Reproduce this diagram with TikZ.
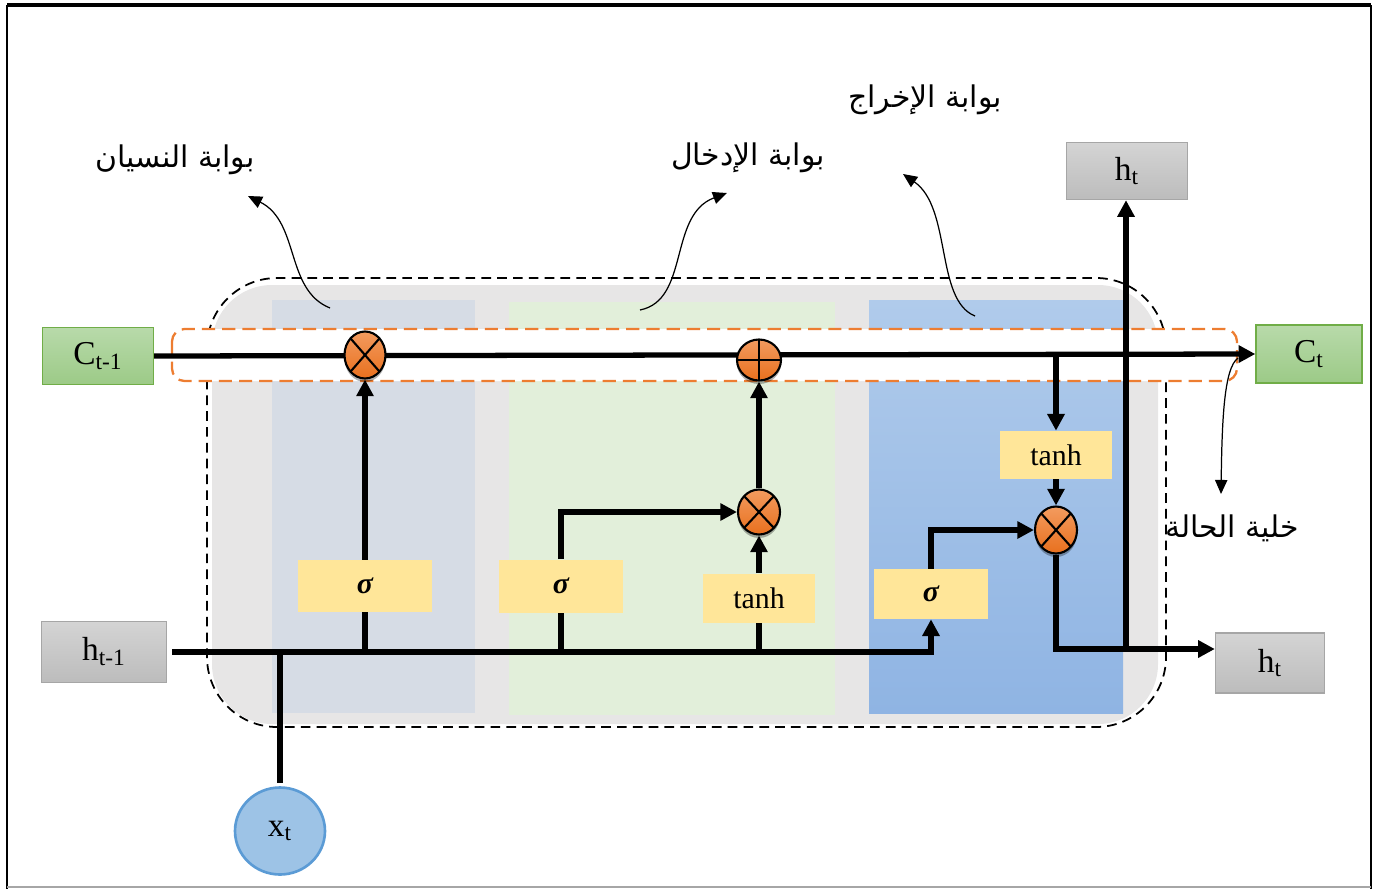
\documentclass[tikz,border=0pt]{standalone}
\usepackage{fontspec}
\setmainfont{Liberation Serif}
\newfontfamily\arabicfont[Script=Arabic]{DejaVu Sans}
\TeXXeTstate=1
\usetikzlibrary{arrows.meta,shapes.geometric,shadows}

\definecolor{cellgray}{HTML}{E7E6E6}
\definecolor{forgetblue}{HTML}{D6DCE5}
\definecolor{inputgreen}{HTML}{E2EFDA}
\definecolor{outtop}{HTML}{B0CBEB}
\definecolor{outbot}{HTML}{8FB4E3}
\definecolor{sigyellow}{HTML}{FFE699}
\definecolor{gateorange}{HTML}{ED7D31}
\definecolor{multtop}{HTML}{F39B5F}
\definecolor{multbot}{HTML}{E8701E}
\definecolor{greentop}{HTML}{B8DAAA}
\definecolor{greenbot}{HTML}{9CCA87}
\definecolor{greenline}{HTML}{70AD47}
\definecolor{graytop}{HTML}{D4D4D4}
\definecolor{graybot}{HTML}{BCBCBC}
\definecolor{grayline}{HTML}{A6A6A6}
\definecolor{xtfill}{HTML}{9DC3E6}
\definecolor{xtline}{HTML}{5B9BD5}

\newcommand\gatelabel[1]{{\arabicfont\beginR #1\endR}}

\pgfdeclarelayer{panels}
\pgfdeclarelayer{wires}
\pgfsetlayers{panels,wires,main}

\tikzset{
	wire/.style={line width=3pt},
	flow/.style={wire,-{Triangle[length=9.5pt,width=9.5pt]}},
	callout/.style={line width=0.7pt,-{Triangle[length=8pt,width=7pt]}},
	gatebox/.style={fill=sigyellow,inner sep=0pt,font=\fontsize{17}{20}\selectfont},
	hbox/.style={draw=grayline,line width=0.8pt,top color=graytop,bottom color=graybot,inner sep=0pt,font=\fontsize{19}{22}\selectfont},
	cbox/.style={draw=greenline,line width=0.8pt,top color=greentop,bottom color=greenbot,inner sep=0pt,font=\fontsize{19}{22}\selectfont},
	opshadow/.style={drop shadow={shadow xshift=0pt,shadow yshift=-2pt,opacity=0.3,fill=black}},
	mult/.style={ellipse,draw,line width=1.2pt,top color=multtop,bottom color=multbot,inner sep=0pt,opshadow,
		path picture={\draw[line width=1.2pt] (path picture bounding box.north west) -- (path picture bounding box.south east)
			(path picture bounding box.north east) -- (path picture bounding box.south west);}},
	addnode/.style={ellipse,draw,line width=1.2pt,top color=multtop,bottom color=multbot,inner sep=0pt,opshadow,
		path picture={\draw[line width=1.2pt] (path picture bounding box.north) -- (path picture bounding box.south)
			(path picture bounding box.west) -- (path picture bounding box.east);}},
	gatetext/.style={font=\fontsize{17}{20}\selectfont}
}

\begin{document}
\begin{tikzpicture}[x=0.02cm,y=-0.02cm]
	\useasboundingbox (0,0) rectangle (1382,889);

	\begin{pgfonlayer}{panels}
		\fill[cellgray,rounded corners=1.2cm] (212,285) rectangle (1158,724);
		\draw[line width=1pt,dash pattern=on 5.5pt off 3.5pt,rounded corners=1.4cm] (207,278) rectangle (1166,727);
		\fill[forgetblue] (272,300) rectangle (475,713);
		\fill[inputgreen] (509,302) rectangle (835,715);
		\shade[top color=outtop,bottom color=outbot] (869,300) rectangle (1123,713);
		\draw[gateorange,fill=white,line width=1.3pt,dash pattern=on 7.5pt off 4pt,rounded corners=0.25cm] (172,329) rectangle (1237,381);
	\end{pgfonlayer}

	\draw[line width=2.4pt] (1371,5) -- (7,5);
	\draw[line width=1.4pt] (7,5) -- (7,889) (1371,5) -- (1371,889);
	\draw[gray!70,line width=0.8pt] (7,887) -- (1371,887);

	\node[cbox,minimum width=2.22cm,minimum height=1.14cm] (ctm) at (98,356) {C\textsubscript{t-1}};
	\node[cbox,minimum width=2.12cm,minimum height=1.16cm] (ct) at (1309,354) {C\textsubscript{t}};
	\node[hbox,minimum width=2.5cm,minimum height=1.22cm] (htm) at (104,652) {h\textsubscript{t-1}};
	\node[hbox,minimum width=2.42cm,minimum height=1.14cm] (htu) at (1127,171) {h\textsubscript{t}};
	\node[hbox,minimum width=2.18cm,minimum height=1.2cm] (hto) at (1270,663) {h\textsubscript{t}};
	\node[ellipse,draw=xtline,line width=1.5pt,fill=xtfill,minimum width=1.8cm,minimum height=1.74cm,inner sep=0pt,font=\fontsize{19}{22}\selectfont] (xt) at (280,831) {x\textsubscript{t}};

	\node[gatebox,minimum width=2.68cm,minimum height=1.04cm] (sigf) at (365,586) {\bfseries\itshape σ};
	\node[gatebox,minimum width=2.48cm,minimum height=1.06cm] (sigi) at (561,586) {\bfseries\itshape σ};
	\node[gatebox,minimum width=2.24cm,minimum height=0.98cm] (tanhi) at (759,598) {tanh};
	\node[gatebox,minimum width=2.28cm,minimum height=1.0cm] (sigo) at (931,594) {\bfseries\itshape σ};
	\node[gatebox,minimum width=2.24cm,minimum height=0.96cm] (tanho) at (1056,455) {tanh};

	\node[mult,minimum width=0.82cm,minimum height=0.94cm] (mulf) at (365,355) {};
	\node[addnode,minimum width=0.88cm,minimum height=0.82cm] (add) at (759,360) {};
	\node[mult,minimum width=0.84cm,minimum height=0.9cm] (muli) at (759,512) {};
	\node[mult,minimum width=0.84cm,minimum height=0.94cm] (mulo) at (1056,530) {};

	\coordinate (hsplit) at (1126,649);

	\begin{pgfonlayer}{wires}
		\draw[flow] (ctm.east) -- (ct.west);
		\draw[flow,shorten <=3pt] (htm.east) -| (sigo.south);
		\draw[wire,shorten <=2pt] (xt.north) -- (xt.north |- htm.east);
		\draw[wire] (sigf.south) -- (sigf.south |- htm.east);
		\draw[flow] (sigf.north) -- (mulf.south);
		\draw[wire] (sigi.south) -- (sigi.south |- htm.east);
		\draw[flow] (sigi.north) |- (muli.west);
		\draw[wire] (tanhi.south) -- (tanhi.south |- htm.east);
		\draw[flow] (tanhi.north) -- (muli.south);
		\draw[flow] (muli.north) -- (add.south);
		\draw[flow] (sigo.north) |- (mulo.west);
		\draw[flow] (tanho.north |- ct.west) -- (tanho.north);
		\draw[flow] (tanho.south) -- (mulo.north);
		\draw[flow] (mulo.south) |- (hto.west |- hsplit);
		\draw[flow] (hsplit) -- (hsplit |- htu.south);
	\end{pgfonlayer}

	\node[gatetext] (lforget) at (175,160) {\gatelabel{بوابة النسيان}};
	\node[gatetext] (linput) at (748,158) {\gatelabel{بوابة الإدخال}};
	\node[gatetext] (loutput) at (925,100) {\gatelabel{بوابة الإخراج}};
	\node[gatetext] (lcell) at (1232,528) {\gatelabel{خلية الحالة}};

	\coordinate (pforget) at (330,308);
	\coordinate (pinput) at (640,310);
	\coordinate (poutput) at (975,316);
	\coordinate (pcell) at (1238,358);
	\draw[callout] (pforget) .. controls (285,290) and (300,222) .. (248,196);
	\draw[callout] (pinput) .. controls (690,300) and (668,215) .. (727,193);
	\draw[callout] (poutput) .. controls (935,300) and (952,208) .. (903,174);
	\draw[callout] (pcell) .. controls (1224,368) and (1222,420) .. (1221,494);
\end{tikzpicture}
\end{document}
